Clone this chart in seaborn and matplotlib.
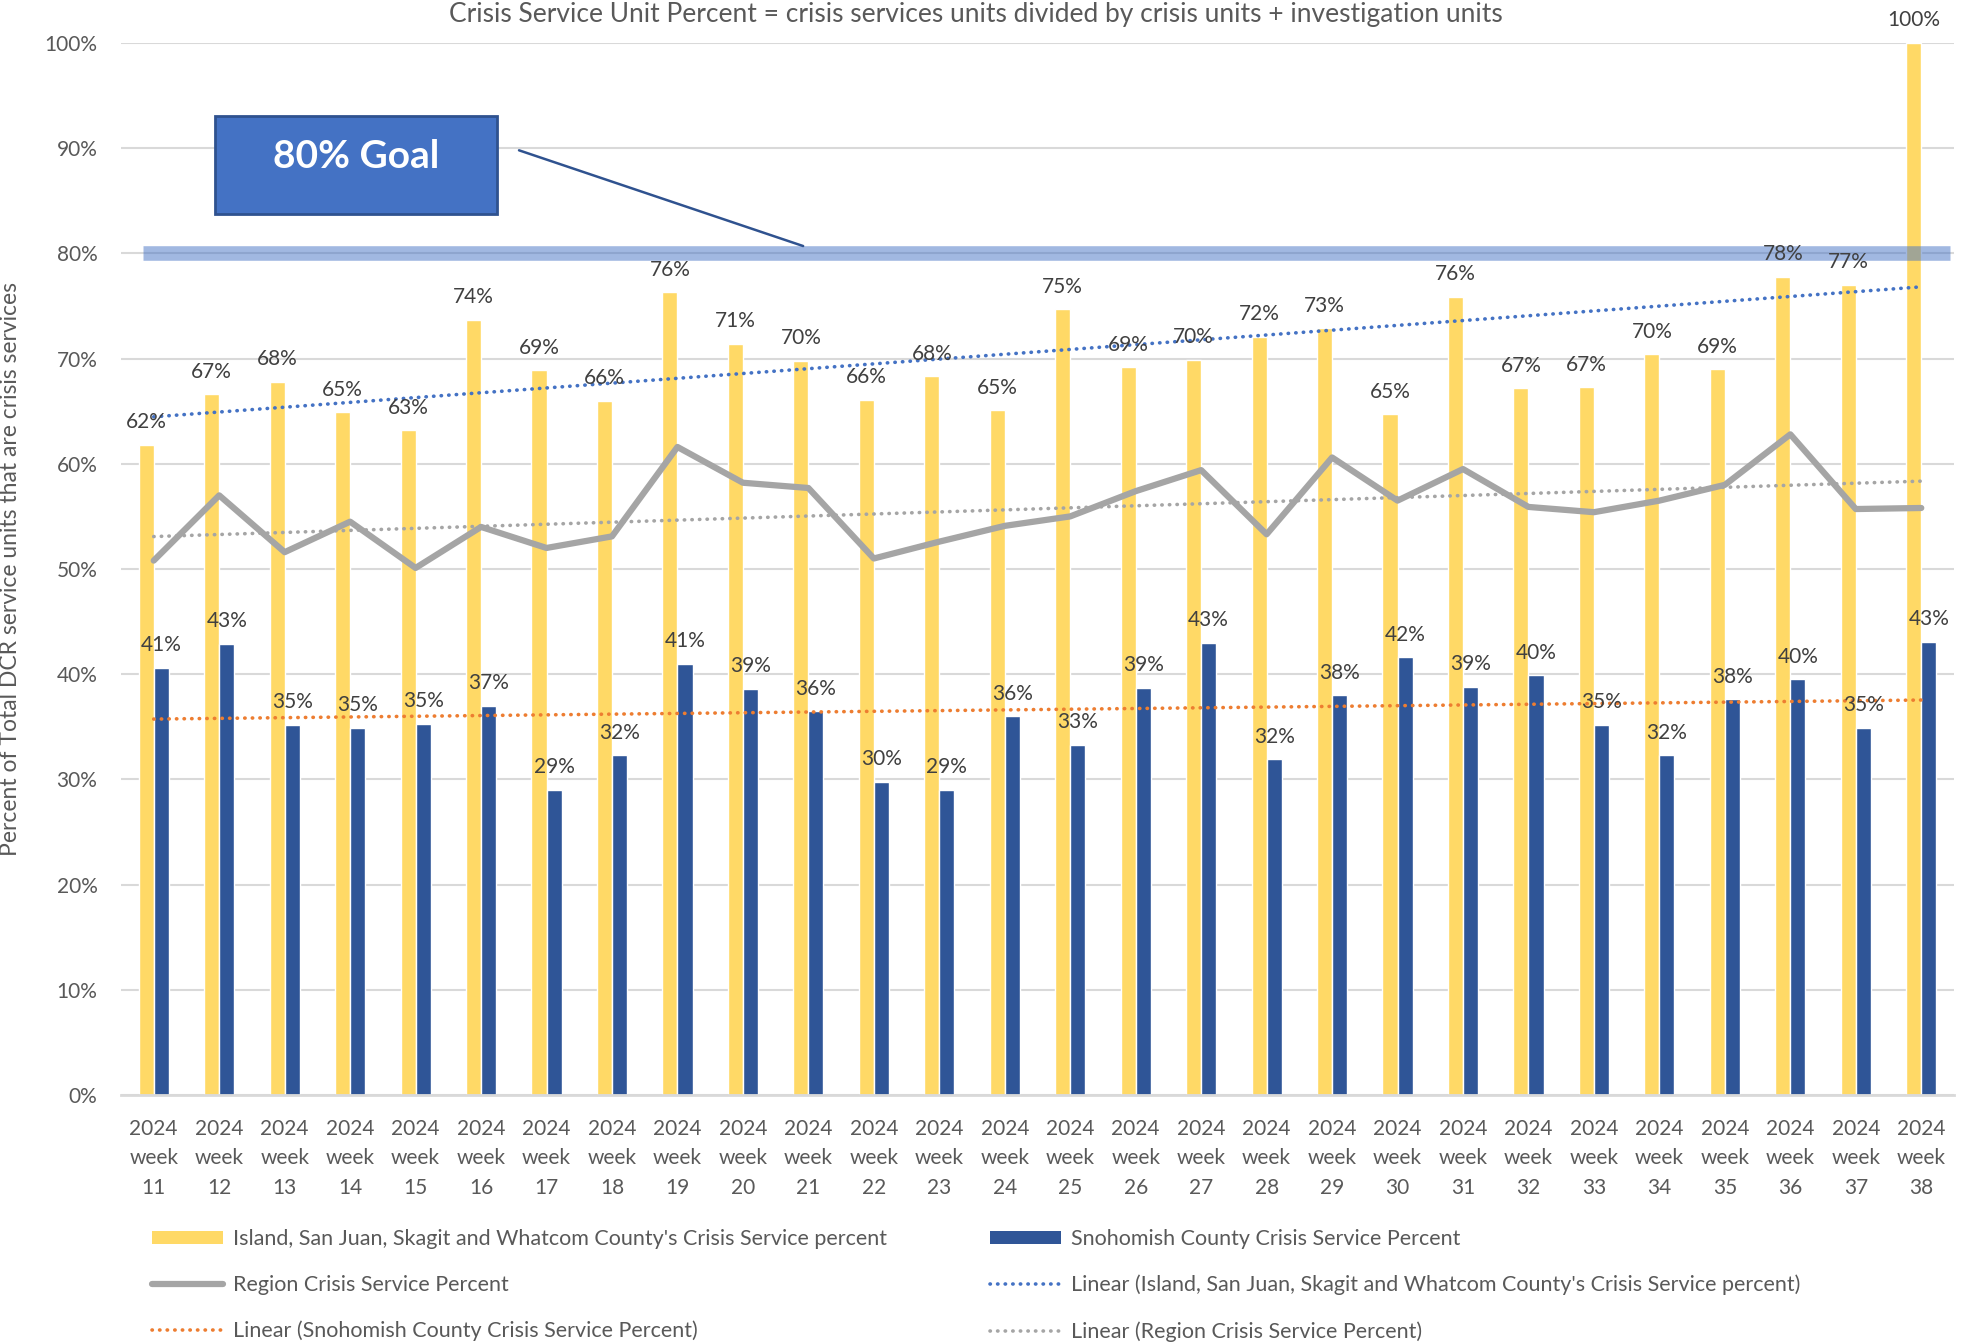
import numpy as np
import pandas as pd
import matplotlib
matplotlib.use("Agg")
import matplotlib.pyplot as plt
import seaborn as sns
from matplotlib.patches import Patch, Rectangle
from matplotlib.lines import Line2D

# ---------------- data ----------------
weeks = ["11", "12", "13", "14", "15", "16", "17", "18", "19", "20", "21", "22", "23", "24",
         "25", "26", "27", "28", "29", "30", "31", "32", "33", "34", "35", "36", "37", "38"]
year = "2024"

north = [61.8, 66.6, 67.8, 64.9, 63.2, 73.7, 68.9, 66.0, 76.3, 71.4, 69.8, 66.1, 68.3, 65.1,
         74.7, 69.2, 69.9, 72.1, 72.9, 64.7, 75.9, 67.2, 67.3, 70.4, 69.0, 77.8, 77.0, 100.0]
snoho = [40.6, 42.9, 35.2, 34.9, 35.3, 37.0, 29.0, 32.3, 41.0, 38.6, 36.5, 29.8, 29.0, 36.0,
         33.3, 38.7, 43.0, 31.9, 38.0, 41.6, 38.8, 39.9, 35.2, 32.3, 37.6, 39.5, 34.9, 43.1]
region = [50.8, 57.0, 51.6, 54.5, 50.1, 54.0, 52.0, 53.1, 61.6, 58.2, 57.7, 51.0, 52.6, 54.1,
          55.0, 57.4, 59.4, 53.3, 60.6, 56.5, 59.5, 55.9, 55.4, 56.5, 58.0, 62.8, 55.7, 55.8]

north_name = "Island, San Juan, Skagit and Whatcom County's Crisis Service percent"
snoho_name = "Snohomish County Crisis Service Percent"
region_name = "Region Crisis Service Percent"
goal_value = 80
goal_text = "80% Goal"
title = "Crisis Service Unit Percent = crisis services units divided by crisis units + investigation units"
ylabel = "Percent of Total DCR service units that are crisis services"

# ---------------- style ----------------
YELLOW = "#FFD966"
BLUE = "#2F5597"
GRAY = "#A5A5A5"
TBLUE = "#4472C4"
ORANGE = "#ED7D31"
TXT = "#595959"
LBL = "#404040"

sns.set_theme(style="white")
plt.rcParams["font.family"] = ["Lato", "DejaVu Sans"]

fig = plt.figure(figsize=(19.75, 13.43), dpi=100)
ax = fig.add_axes([121 / 1975, 1 - 1095 / 1343, (1954 - 121) / 1975, (1095 - 43) / 1343])

labels_x = [f"{year}\nweek\n{w}" for w in weeks]
df = pd.DataFrame({
    "week": labels_x * 2,
    "series": [north_name] * len(weeks) + [snoho_name] * len(weeks),
    "value": north + snoho,
})

sns.barplot(data=df, x="week", y="value", hue="series", order=labels_x,
            hue_order=[north_name, snoho_name], palette=[YELLOW, BLUE],
            width=0.46, saturation=1, dodge=True, legend=False, ax=ax, zorder=2)

for cont, vals in zip(ax.containers, [north, snoho]):
    ax.bar_label(cont, labels=[f"{v:.0f}%" for v in vals], padding=9,
                 fontsize=15, color=LBL, clip_on=False, zorder=6)

xpos = np.arange(len(weeks))
sns.lineplot(x=xpos, y=region, color=GRAY, lw=4.5, ax=ax, zorder=4)

dot = (0, (0.1, 2.0))
for vals, col in [(north, TBLUE), (snoho, ORANGE), (region, GRAY)]:
    sns.regplot(x=xpos, y=np.array(vals), scatter=False, ci=None, truncate=True, ax=ax,
                line_kws=dict(color=col, lw=2.6, ls=dot, dash_capstyle="round", zorder=5))

# goal band
ax.hlines(goal_value, -0.17, 27.44, colors=TBLUE, lw=10.5, alpha=0.5, zorder=5)

# goal box and connector
box = Rectangle((0.94, 83.7), 5.25 - 0.94, 93.05 - 83.7, facecolor=TBLUE,
                edgecolor="#2F528F", lw=2, zorder=7)
ax.add_patch(box)
ax.text((0.94 + 5.25) / 2, 89.2, goal_text, color="white", fontsize=28,
        fontweight="bold", ha="center", va="center", zorder=8)
ax.plot([5.58, 9.92], [89.8, 80.7], color="#2F528F", lw=1.8, zorder=7)

# axes cosmetics
ax.set_xlim(-0.5, len(weeks) - 0.5)
ax.set_ylim(0, 100)
ax.set_yticks(np.arange(0, 101, 10))
ax.set_yticklabels([f"{t}%" for t in range(0, 101, 10)], fontsize=15, color=TXT)
ax.set_xticks(xpos)
ax.set_xticklabels(labels_x, fontsize=15, color=TXT, linespacing=1.6)
ax.tick_params(axis="x", length=0, pad=17)
ax.tick_params(axis="y", length=0, pad=17)
ax.grid(axis="y", color="#D9D9D9", lw=1.5, zorder=0)
ax.set_axisbelow(True)
for s in ["top", "right", "left"]:
    ax.spines[s].set_visible(False)
ax.spines["bottom"].set_color("#D9D9D9")
ax.spines["bottom"].set_linewidth(2)
ax.set_xlabel("")
ax.set_ylabel(ylabel, fontsize=16.5, color=TXT)
ax.yaxis.set_label_coords(-0.0546, 0.5)

fig.text(0.494, 1 - 2 / 1343, title, ha="center", va="top", fontsize=19, color=TXT)

# legend
handles = [
    Patch(facecolor=YELLOW, edgecolor="none"),
    Line2D([], [], color=GRAY, lw=4.5),
    Line2D([], [], color=ORANGE, lw=2.6, ls=dot, dash_capstyle="round"),
    Patch(facecolor=BLUE, edgecolor="none"),
    Line2D([], [], color=TBLUE, lw=2.6, ls=dot, dash_capstyle="round"),
    Line2D([], [], color=GRAY, lw=2.6, ls=dot, dash_capstyle="round"),
]
leg_labels = [
    north_name, region_name, "Linear (" + snoho_name + ")",
    snoho_name, "Linear (" + north_name + ")", "Linear (" + region_name + ")",
]
leg = fig.legend(handles, leg_labels, ncol=2, loc="upper left",
                 bbox_to_anchor=(152 / 1975, 1 - 1229 / 1343), frameon=False,
                 fontsize=15.5, handlelength=3.3, handleheight=0.6, handletextpad=0.45,
                 columnspacing=4.8, labelspacing=1.2, borderpad=0, borderaxespad=0)
for t in leg.get_texts():
    t.set_color(TXT)

fig.savefig("out.png", dpi=100)
